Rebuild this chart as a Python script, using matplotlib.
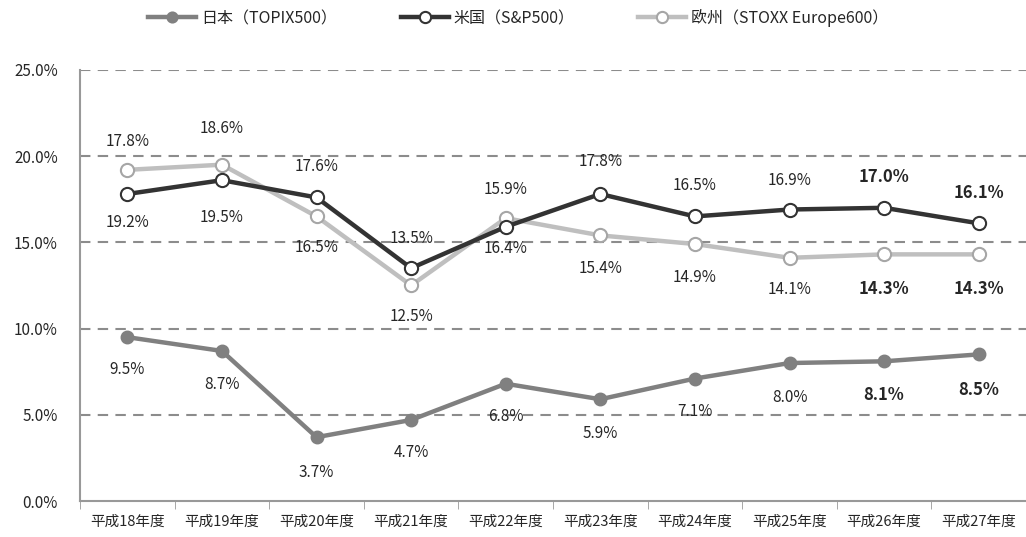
import matplotlib
matplotlib.use('Agg')
import matplotlib.pyplot as plt
import numpy as np
from matplotlib.ticker import FuncFormatter, FixedLocator

plt.rcParams['font.family'] = ['Noto Sans CJK JP', 'DejaVu Sans']

years = ['平成18年度', '平成19年度', '平成20年度', '平成21年度', '平成22年度',
         '平成23年度', '平成24年度', '平成25年度', '平成26年度', '平成27年度']
japan = [9.5, 8.7, 3.7, 4.7, 6.8, 5.9, 7.1, 8.0, 8.1, 8.5]
usa = [17.8, 18.6, 17.6, 13.5, 15.9, 17.8, 16.5, 16.9, 17.0, 16.1]
europe = [19.2, 19.5, 16.5, 12.5, 16.4, 15.4, 14.9, 14.1, 14.3, 14.3]

# label offsets in pixels (positive = above the point)
usa_off = [52, 52, 31, 30, 37, 32, 31, 29, 31, 30]
eur_off = [-53, -53, -31, -31, -30, -33, -33, -32, -35, -35]
jpn_off = [-32, -34, -35, -33, -33, -34, -33, -34, -34, -36]
bold_from = 8  # last two years shown in bold

fig = plt.figure(figsize=(10.26, 5.37), dpi=100)
ax = fig.add_axes([0.078, 0.067, 0.922, 0.803])
x = np.arange(len(years))

ax.plot(x, japan, color='#808080', lw=3.2, marker='o', ms=8.5,
        mfc='#808080', mec='#808080', mew=1.5, label='日本（TOPIX500）', zorder=3)
ax.plot(x, europe, color='#bfbfbf', lw=3.2, marker='o', ms=9.5,
        mfc='white', mec='#a6a6a6', mew=1.5, label='欧州（STOXX Europe600）', zorder=3)
ax.plot(x, usa, color='#333333', lw=3.2, marker='o', ms=9.5,
        mfc='white', mec='#333333', mew=1.5, label='米国（S&P500）', zorder=4)


def put_labels(vals, offs):
    for i, (v, o) in enumerate(zip(vals, offs)):
        bold = i >= bold_from
        ax.annotate(f'{v:.1f}%', (i, v), xytext=(0, o), textcoords='offset pixels',
                    ha='center', va='center', color='#262626',
                    fontsize=12 if bold else 11,
                    fontweight='bold' if bold else 'normal', zorder=5)


put_labels(usa, usa_off)
put_labels(europe, eur_off)
put_labels(japan, jpn_off)

ax.set_xlim(-0.5, len(years) - 0.5)
ax.set_ylim(0, 25)
ax.set_yticks(np.arange(0, 26, 5))
ax.yaxis.set_major_formatter(FuncFormatter(lambda v, p: f'{v:.1f}%'))
ax.set_xticks(x)
ax.set_xticklabels(years)
ax.xaxis.set_minor_locator(FixedLocator(np.arange(-0.5, len(years), 1)))
ax.tick_params(axis='x', which='major', length=0, labelsize=10.5, colors='#262626', pad=10)
ax.tick_params(axis='x', which='minor', length=6, color='#999999', direction='out')
ax.tick_params(axis='y', length=0, labelsize=11, colors='#262626', pad=16)

for v in np.arange(5, 26, 5):
    ax.axhline(v, color='#8c8c8c', lw=1.5, ls=(0, (5, 3.5)), zorder=1)

for s in ['top', 'right']:
    ax.spines[s].set_visible(False)
ax.spines['left'].set_color('#999999')
ax.spines['bottom'].set_color('#999999')
ax.spines['left'].set_linewidth(1.5)
ax.spines['bottom'].set_linewidth(1.5)

handles, labels = ax.get_legend_handles_labels()
order = [0, 2, 1]
fig.legend([handles[i] for i in order], [labels[i] for i in order],
           loc='upper center', bbox_to_anchor=(0.505, 1.01), ncol=3, frameon=False,
           fontsize=11.5, handlelength=3.0, columnspacing=4.0, handletextpad=0.3,
           markerscale=0.85, labelcolor='#262626')

fig.savefig('out.png', dpi=100)
